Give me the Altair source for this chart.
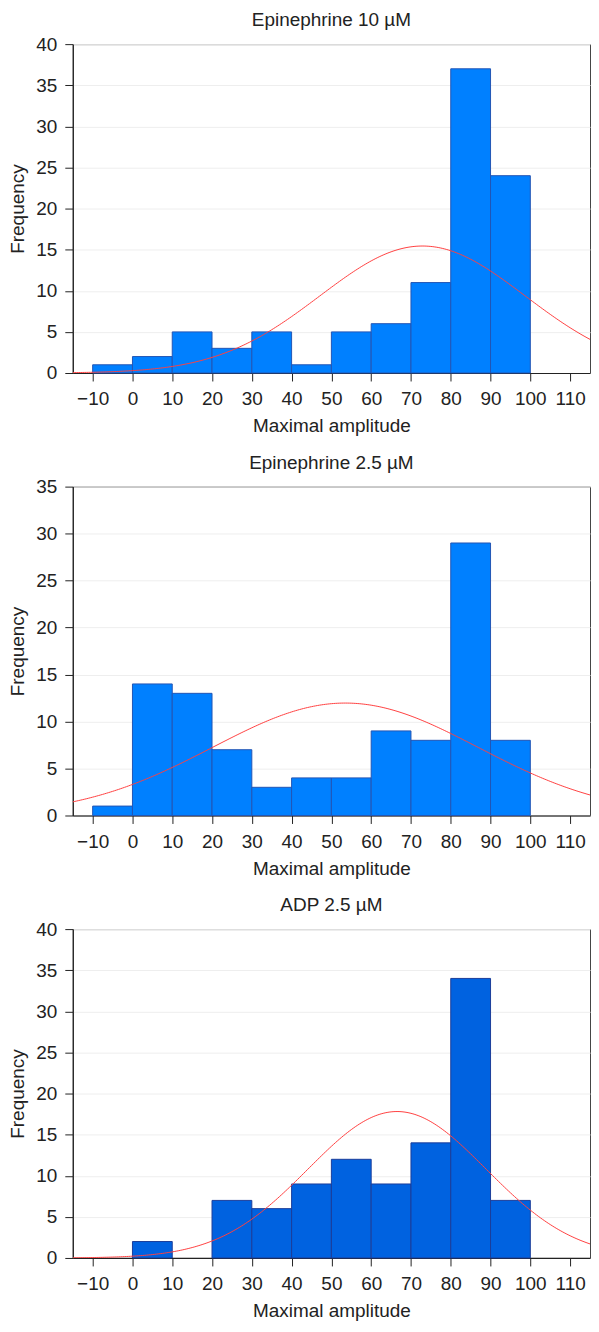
import numpy as np
import pandas as pd
import altair as alt

bin_starts = [-10, 0, 10, 20, 30, 40, 50, 60, 70, 80, 90]
bin_width = 10
titles = ["Epinephrine 10 µM", "Epinephrine 2.5 µM", "ADP 2.5 µM"]
counts_epi10 = [1, 2, 5, 3, 5, 1, 5, 6, 11, 37, 24]
counts_epi25 = [1, 14, 13, 7, 3, 4, 4, 9, 8, 29, 8]
counts_adp25 = [0, 2, 0, 7, 6, 9, 12, 9, 14, 34, 7]
all_counts = [counts_epi10, counts_epi25, counts_adp25]
y_max = [40, 35, 40]
fills = ["#0080FF", "#0080FF", "#0062E0"]
strokes = ["#2255B5", "#2255B5", "#1B3D9A"]
x_ticks = [-10, 0, 10, 20, 30, 40, 50, 60, 70, 80, 90, 100, 110]
x_domain = [-15, 115]

FONT = "Liberation Sans"
FS = 19


def panel(title, counts, ymax, fill, stroke):
    starts = np.array(bin_starts, dtype=float)
    c = np.array(counts, dtype=float)
    df = pd.DataFrame({"start": starts, "end": starts + bin_width, "count": c})
    df = df[df["count"] > 0]

    # fitted normal curve from the binned data (midpoints)
    mids = starts + bin_width / 2
    n = c.sum()
    mean = (mids * c).sum() / n
    sd = np.sqrt(((mids - mean) ** 2 * c).sum() / (n - 1))
    gx = np.linspace(x_domain[0], x_domain[1], 261)
    gy = n * bin_width * np.exp(-0.5 * ((gx - mean) / sd) ** 2) / (sd * np.sqrt(2 * np.pi))
    curve = pd.DataFrame({"x": gx, "y": gy})

    xscale = alt.Scale(domain=x_domain, nice=False, zero=False)
    yscale = alt.Scale(domain=[0, ymax], nice=False)
    xaxis = alt.Axis(values=x_ticks, title="Maximal amplitude", grid=False,
                     tickSize=8, labelPadding=9, titlePadding=8)
    yaxis = alt.Axis(values=list(range(0, ymax + 1, 5)), title="Frequency", grid=True,
                     tickSize=8, labelPadding=8, titlePadding=8)

    bars = alt.Chart(df).mark_rect(fill=fill, stroke=stroke, strokeWidth=1).encode(
        x=alt.X("start:Q", scale=xscale, axis=xaxis),
        x2="end:Q",
        y=alt.Y("count:Q", scale=yscale, axis=yaxis),
        y2=alt.datum(0),
    )
    line = alt.Chart(curve).mark_line(color="#FF4040", strokeWidth=1, clip=True).encode(
        x=alt.X("x:Q", scale=xscale),
        y=alt.Y("y:Q", scale=yscale),
    )
    return alt.layer(bars, line).properties(
        width=519, height=330,
        title=alt.TitleParams(title, fontSize=FS, font=FONT, fontWeight="normal",
                              color="#222222", offset=5, anchor="middle"),
    )


panels = [panel(t, c, m, f, s) for t, c, m, f, s in zip(titles, all_counts, y_max, fills, strokes)]

chart = alt.vconcat(*panels, spacing=16).configure(
    padding=0, background="white"
).configure_view(
    stroke="#444444", strokeWidth=1
).configure_axis(
    labelFont=FONT, titleFont=FONT, labelFontSize=FS, titleFontSize=FS,
    titleFontWeight="normal", labelColor="#222222", titleColor="#222222",
    domainColor="#222222", tickColor="#222222", domainWidth=1.2,
    gridColor="#eeeeee", labelFlush=False,
)

chart.save("out.html", embed_options={"renderer": "svg", "actions": False})
